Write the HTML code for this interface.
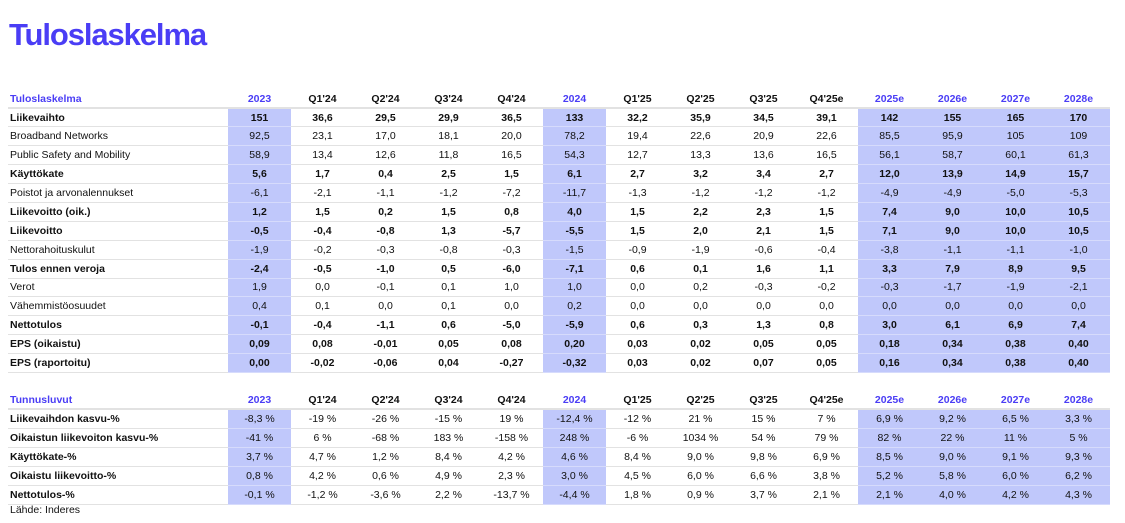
<!DOCTYPE html>
<html><head><meta charset="utf-8"><style>
body{margin:0;width:1125px;height:523px;background:#fff;font-family:"Liberation Sans",Arial,sans-serif;color:#111;position:relative;overflow:hidden}
h1{position:absolute;left:9px;top:17px;margin:0;font-size:31px;letter-spacing:-1.1px;color:#4a3df5;font-weight:bold}
table{position:absolute;left:8px;border-collapse:collapse;table-layout:fixed;font-size:10.5px}
td{padding:0;text-align:center;white-space:nowrap;border-bottom:1px solid #e2e2e2}
td:first-child{text-align:left;padding-left:2px}
col.l{width:220px}col.c{width:63px}
tr.h td{color:#4a3df5;font-weight:bold;border-bottom:2px solid #e2e2e2}
tr.h td.k{color:#111}
tr.b td{font-weight:bold}
td.s{background:#c0c8fb;border-bottom:1px solid #d6dbfc}
tr.h td.s{background:none}
#t1{top:91px}#t1 tr{height:18.9px}#t1 tr.h{height:17px}
#t2{top:392px}#t2 tr{height:19px}#t2 tr.h{height:17px}
.src{position:absolute;left:10px;top:504px;font-size:10.5px}
</style></head><body>
<h1>Tuloslaskelma</h1>
<table id="t1"><colgroup><col class="l"><col class="c"><col class="c"><col class="c"><col class="c"><col class="c"><col class="c"><col class="c"><col class="c"><col class="c"><col class="c"><col class="c"><col class="c"><col class="c"><col class="c"></colgroup>
<tr class="h"><td>Tuloslaskelma</td><td class="s">2023</td><td class="k">Q1'24</td><td class="k">Q2'24</td><td class="k">Q3'24</td><td class="k">Q4'24</td><td class="s">2024</td><td class="k">Q1'25</td><td class="k">Q2'25</td><td class="k">Q3'25</td><td class="k">Q4'25e</td><td class="s">2025e</td><td class="s">2026e</td><td class="s">2027e</td><td class="s">2028e</td></tr>
<tr class="b"><td>Liikevaihto</td><td class="s">151</td><td>36,6</td><td>29,5</td><td>29,9</td><td>36,5</td><td class="s">133</td><td>32,2</td><td>35,9</td><td>34,5</td><td>39,1</td><td class="s">142</td><td class="s">155</td><td class="s">165</td><td class="s">170</td></tr>
<tr><td>Broadband Networks</td><td class="s">92,5</td><td>23,1</td><td>17,0</td><td>18,1</td><td>20,0</td><td class="s">78,2</td><td>19,4</td><td>22,6</td><td>20,9</td><td>22,6</td><td class="s">85,5</td><td class="s">95,9</td><td class="s">105</td><td class="s">109</td></tr>
<tr><td>Public Safety and Mobility</td><td class="s">58,9</td><td>13,4</td><td>12,6</td><td>11,8</td><td>16,5</td><td class="s">54,3</td><td>12,7</td><td>13,3</td><td>13,6</td><td>16,5</td><td class="s">56,1</td><td class="s">58,7</td><td class="s">60,1</td><td class="s">61,3</td></tr>
<tr class="b"><td>Käyttökate</td><td class="s">5,6</td><td>1,7</td><td>0,4</td><td>2,5</td><td>1,5</td><td class="s">6,1</td><td>2,7</td><td>3,2</td><td>3,4</td><td>2,7</td><td class="s">12,0</td><td class="s">13,9</td><td class="s">14,9</td><td class="s">15,7</td></tr>
<tr><td>Poistot ja arvonalennukset</td><td class="s">-6,1</td><td>-2,1</td><td>-1,1</td><td>-1,2</td><td>-7,2</td><td class="s">-11,7</td><td>-1,3</td><td>-1,2</td><td>-1,2</td><td>-1,2</td><td class="s">-4,9</td><td class="s">-4,9</td><td class="s">-5,0</td><td class="s">-5,3</td></tr>
<tr class="b"><td>Liikevoitto (oik.)</td><td class="s">1,2</td><td>1,5</td><td>0,2</td><td>1,5</td><td>0,8</td><td class="s">4,0</td><td>1,5</td><td>2,2</td><td>2,3</td><td>1,5</td><td class="s">7,4</td><td class="s">9,0</td><td class="s">10,0</td><td class="s">10,5</td></tr>
<tr class="b"><td>Liikevoitto</td><td class="s">-0,5</td><td>-0,4</td><td>-0,8</td><td>1,3</td><td>-5,7</td><td class="s">-5,5</td><td>1,5</td><td>2,0</td><td>2,1</td><td>1,5</td><td class="s">7,1</td><td class="s">9,0</td><td class="s">10,0</td><td class="s">10,5</td></tr>
<tr><td>Nettorahoituskulut</td><td class="s">-1,9</td><td>-0,2</td><td>-0,3</td><td>-0,8</td><td>-0,3</td><td class="s">-1,5</td><td>-0,9</td><td>-1,9</td><td>-0,6</td><td>-0,4</td><td class="s">-3,8</td><td class="s">-1,1</td><td class="s">-1,1</td><td class="s">-1,0</td></tr>
<tr class="b"><td>Tulos ennen veroja</td><td class="s">-2,4</td><td>-0,5</td><td>-1,0</td><td>0,5</td><td>-6,0</td><td class="s">-7,1</td><td>0,6</td><td>0,1</td><td>1,6</td><td>1,1</td><td class="s">3,3</td><td class="s">7,9</td><td class="s">8,9</td><td class="s">9,5</td></tr>
<tr><td>Verot</td><td class="s">1,9</td><td>0,0</td><td>-0,1</td><td>0,1</td><td>1,0</td><td class="s">1,0</td><td>0,0</td><td>0,2</td><td>-0,3</td><td>-0,2</td><td class="s">-0,3</td><td class="s">-1,7</td><td class="s">-1,9</td><td class="s">-2,1</td></tr>
<tr><td>Vähemmistöosuudet</td><td class="s">0,4</td><td>0,1</td><td>0,0</td><td>0,1</td><td>0,0</td><td class="s">0,2</td><td>0,0</td><td>0,0</td><td>0,0</td><td>0,0</td><td class="s">0,0</td><td class="s">0,0</td><td class="s">0,0</td><td class="s">0,0</td></tr>
<tr class="b"><td>Nettotulos</td><td class="s">-0,1</td><td>-0,4</td><td>-1,1</td><td>0,6</td><td>-5,0</td><td class="s">-5,9</td><td>0,6</td><td>0,3</td><td>1,3</td><td>0,8</td><td class="s">3,0</td><td class="s">6,1</td><td class="s">6,9</td><td class="s">7,4</td></tr>
<tr class="b"><td>EPS (oikaistu)</td><td class="s">0,09</td><td>0,08</td><td>-0,01</td><td>0,05</td><td>0,08</td><td class="s">0,20</td><td>0,03</td><td>0,02</td><td>0,05</td><td>0,05</td><td class="s">0,18</td><td class="s">0,34</td><td class="s">0,38</td><td class="s">0,40</td></tr>
<tr class="b"><td>EPS (raportoitu)</td><td class="s">0,00</td><td>-0,02</td><td>-0,06</td><td>0,04</td><td>-0,27</td><td class="s">-0,32</td><td>0,03</td><td>0,02</td><td>0,07</td><td>0,05</td><td class="s">0,16</td><td class="s">0,34</td><td class="s">0,38</td><td class="s">0,40</td></tr>
</table>
<table id="t2"><colgroup><col class="l"><col class="c"><col class="c"><col class="c"><col class="c"><col class="c"><col class="c"><col class="c"><col class="c"><col class="c"><col class="c"><col class="c"><col class="c"><col class="c"><col class="c"></colgroup>
<tr class="h"><td>Tunnusluvut</td><td class="s">2023</td><td class="k">Q1'24</td><td class="k">Q2'24</td><td class="k">Q3'24</td><td class="k">Q4'24</td><td class="s">2024</td><td class="k">Q1'25</td><td class="k">Q2'25</td><td class="k">Q3'25</td><td class="k">Q4'25e</td><td class="s">2025e</td><td class="s">2026e</td><td class="s">2027e</td><td class="s">2028e</td></tr>
<tr><td><b>Liikevaihdon kasvu-%</b></td><td class="s">-8,3 %</td><td>-19 %</td><td>-26 %</td><td>-15 %</td><td>19 %</td><td class="s">-12,4 %</td><td>-12 %</td><td>21 %</td><td>15 %</td><td>7 %</td><td class="s">6,9 %</td><td class="s">9,2 %</td><td class="s">6,5 %</td><td class="s">3,3 %</td></tr>
<tr><td><b>Oikaistun liikevoiton kasvu-%</b></td><td class="s">-41 %</td><td>6 %</td><td>-68 %</td><td>183 %</td><td>-158 %</td><td class="s">248 %</td><td>-6 %</td><td>1034 %</td><td>54 %</td><td>79 %</td><td class="s">82 %</td><td class="s">22 %</td><td class="s">11 %</td><td class="s">5 %</td></tr>
<tr><td><b>Käyttökate-%</b></td><td class="s">3,7 %</td><td>4,7 %</td><td>1,2 %</td><td>8,4 %</td><td>4,2 %</td><td class="s">4,6 %</td><td>8,4 %</td><td>9,0 %</td><td>9,8 %</td><td>6,9 %</td><td class="s">8,5 %</td><td class="s">9,0 %</td><td class="s">9,1 %</td><td class="s">9,3 %</td></tr>
<tr><td><b>Oikaistu liikevoitto-%</b></td><td class="s">0,8 %</td><td>4,2 %</td><td>0,6 %</td><td>4,9 %</td><td>2,3 %</td><td class="s">3,0 %</td><td>4,5 %</td><td>6,0 %</td><td>6,6 %</td><td>3,8 %</td><td class="s">5,2 %</td><td class="s">5,8 %</td><td class="s">6,0 %</td><td class="s">6,2 %</td></tr>
<tr><td><b>Nettotulos-%</b></td><td class="s">-0,1 %</td><td>-1,2 %</td><td>-3,6 %</td><td>2,2 %</td><td>-13,7 %</td><td class="s">-4,4 %</td><td>1,8 %</td><td>0,9 %</td><td>3,7 %</td><td>2,1 %</td><td class="s">2,1 %</td><td class="s">4,0 %</td><td class="s">4,2 %</td><td class="s">4,3 %</td></tr>
</table>
<div class="src">Lähde: Inderes</div>
</body></html>
